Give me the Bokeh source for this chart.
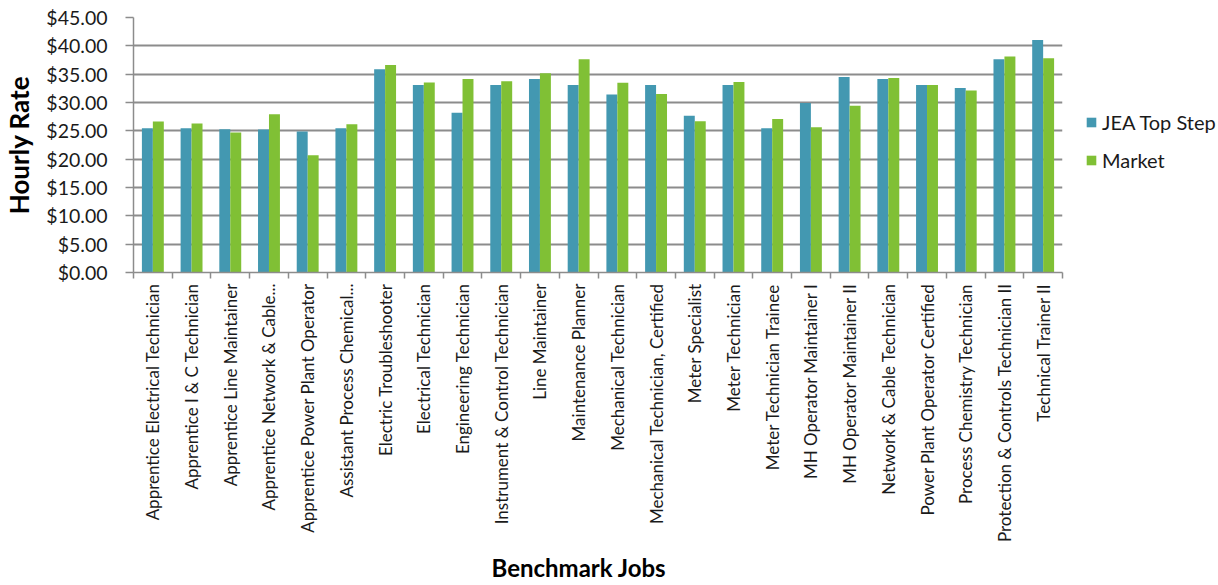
import numpy as np
from bokeh.plotting import figure
from bokeh.models import ColumnDataSource, FixedTicker, Legend, LegendItem, NumeralTickFormatter, Title
from bokeh.embed import file_html
from bokeh.resources import INLINE

categories = [
    "Apprentice Electrical Technician",
    "Apprentice I & C Technician",
    "Apprentice Line Maintainer",
    "Apprentice Network & Cable...",
    "Apprentice Power Plant Operator",
    "Assistant Process Chemical...",
    "Electric Troubleshooter",
    "Electrical Technician",
    "Engineering Technician",
    "Instrument & Control Technician",
    "Line Maintainer",
    "Maintenance Planner",
    "Mechanical Technician",
    "Mechanical Technician, Certified",
    "Meter Specialist",
    "Meter Technician",
    "Meter Technician Trainee",
    "MH Operator Maintainer I",
    "MH Operator Maintainer II",
    "Network & Cable Technician",
    "Power Plant Operator Certified",
    "Process Chemistry Technician",
    "Protection & Controls Technician II",
    "Technical Trainer II",
]
jea_top_step = [25.46, 25.46, 25.28, 25.22, 24.87, 25.46, 35.85, 33.08, 28.17, 33.08,
                34.14, 33.08, 31.42, 33.08, 27.64, 33.08, 25.46, 29.89, 34.49, 34.14,
                33.08, 32.55, 37.63, 41.05]
market = [26.64, 26.28, 24.69, 27.94, 20.67, 26.17, 36.62, 33.55, 34.14, 33.73,
          35.14, 37.63, 33.49, 31.48, 26.70, 33.61, 27.11, 25.63, 29.42, 34.32,
          33.08, 32.13, 38.10, 37.80]
y_ticks = [0, 5, 10, 15, 20, 25, 30, 35, 40, 45]

BLUE = "#4398B1"
GREEN = "#80C035"
GRID = "#8C8C8C"
FONT = "Lato"

n = len(categories)
idx = np.arange(n)
bar_w = 0.283
src = ColumnDataSource(dict(
    xj=idx + 0.5 - bar_w / 2, xm=idx + 0.5 + bar_w / 2,
    jea=jea_top_step, market=market, cat=categories))

p = figure(frame_width=929, frame_height=255, output_backend="svg", toolbar_location=None,
           x_range=(0, n), y_range=(0, 45),
           min_border_left=129, min_border_right=155, min_border_top=17,
           min_border_bottom=300)
p.outline_line_color = None
p.background_fill_color = "white"

rj = p.vbar(x="xj", top="jea", width=bar_w, source=src, fill_color=BLUE, line_color=None)
rm = p.vbar(x="xm", top="market", width=bar_w, source=src, fill_color=GREEN, line_color=None)

# x axis
p.xaxis.ticker = FixedTicker(ticks=list(idx + 0.5), minor_ticks=list(range(n + 1)))
p.xaxis.major_label_overrides = {float(i + 0.5): c for i, c in enumerate(categories)}
p.xaxis.major_label_orientation = np.pi / 2
p.xaxis.major_tick_line_color = None
p.xaxis.major_tick_out = 0
p.xaxis.major_tick_in = 0
p.xaxis.minor_tick_line_color = GRID
p.xaxis.minor_tick_line_width = 1.5
p.xaxis.minor_tick_out = 6
p.xaxis.minor_tick_in = 0
p.xaxis.major_label_standoff = 5
p.xaxis.major_label_text_font = FONT
p.xaxis.major_label_text_font_size = "17px"
p.xaxis.major_label_text_color = "#1a1a1a"
p.xaxis.axis_line_color = GRID
p.xaxis.axis_line_width = 1.5

x_title = Title(text="Benchmark Jobs", align="left", offset=358, standoff=10,
                text_font=FONT, text_font_size="24px", text_font_style="bold",
                text_color="black")
p.add_layout(x_title, "below")

# y axis
p.yaxis.ticker = FixedTicker(ticks=y_ticks)
p.yaxis.formatter = NumeralTickFormatter(format="$0.00")
p.yaxis.major_tick_line_color = GRID
p.yaxis.major_tick_line_width = 1.5
p.yaxis.major_tick_out = 8
p.yaxis.major_tick_in = 0
p.yaxis.minor_tick_line_color = None
p.yaxis.major_label_standoff = 18
p.yaxis.major_label_text_font = FONT
p.yaxis.major_label_text_font_size = "19.5px"
p.yaxis.major_label_text_color = "#1a1a1a"
p.yaxis.axis_line_color = GRID
p.yaxis.axis_line_width = 1.5
p.yaxis.axis_label = "Hourly Rate"
p.yaxis.axis_label_text_font = FONT
p.yaxis.axis_label_text_font_size = "26px"
p.yaxis.axis_label_text_font_style = "bold"
p.yaxis.axis_label_text_color = "black"
p.yaxis.axis_label_standoff = 8

p.xgrid.grid_line_color = None
p.ygrid.ticker = FixedTicker(ticks=y_ticks)
p.ygrid.grid_line_color = GRID
p.ygrid.grid_line_width = 1.8

legend = Legend(items=[LegendItem(label="JEA Top Step", renderers=[rj]),
                       LegendItem(label="Market", renderers=[rm])],
                location=(23, 100), orientation="vertical",
                border_line_color=None, background_fill_alpha=0,
                glyph_width=12, glyph_height=12, label_standoff=5,
                label_text_font=FONT, label_text_font_size="20px",
                label_text_color="#1a1a1a", label_height=24, spacing=14,
                margin=0, padding=0)
p.add_layout(legend, "right")

open("out.html", "w").write(file_html(p, INLINE))
